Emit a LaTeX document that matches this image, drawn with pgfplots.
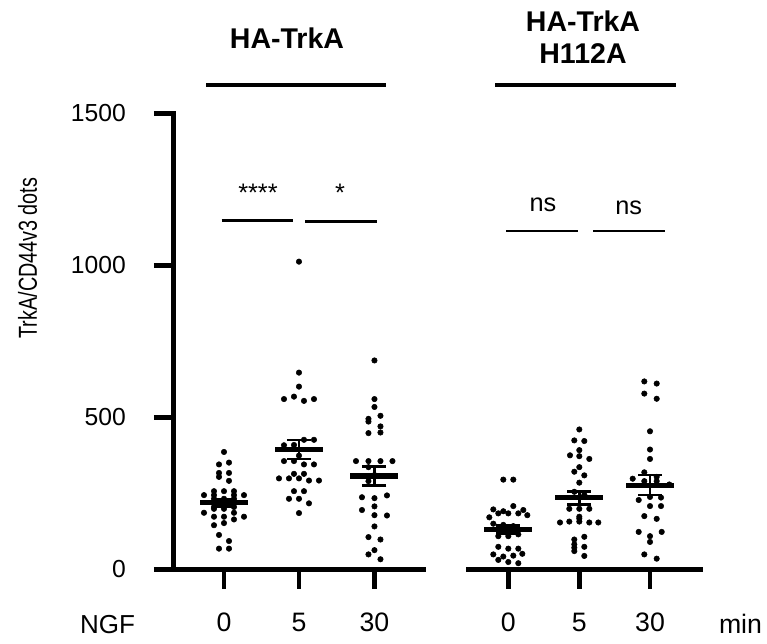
\documentclass[border=0pt]{standalone}
\usepackage{fontspec}
\setmainfont{Liberation Sans}
\usepackage{graphicx}
\usepackage{pgfplots}
\pgfplotsset{compat=1.18}
\pgfplotsset{
  prism/.style={
    scale only axis, height=342pt,
    ymin=0, ymax=1500,
    clip=false,
    anchor=south west,
    xticklabel style={font=\fontsize{20}{22}\selectfont, anchor=base, yshift=-32pt},
    yticklabel style={font=\fontsize{18.5}{20}\selectfont, xshift=-17.6pt},
  },
  prismlines/.style={
    axis line style={line width=3.3pt, line cap=rect},
    x axis line style={-}, y axis line style={-},
    every outer x axis line/.append style={-},
    every outer y axis line/.append style={-},
    tick style={line width=3.4pt, black},
    major tick length=14.5pt,
    tick align=outside,
  },
  dots/.style={only marks, mark=*, mark size=2.05pt, black},
  meanbar/.style={draw=none, mark=none, forget plot,
    error bars/.cd, x dir=both, x explicit, error mark=none,
    error bar style={draw=black, line width=3.8pt}},
  sembar/.style={draw=none, mark=none, forget plot,
    error bars/.cd, y dir=both, y explicit,
    error bar style={draw=black, line width=2pt},
    error mark options={rotate=90, mark size=9pt, line width=2pt, black}},
}
\begin{document}
\begin{tikzpicture}
\useasboundingbox (0,0) rectangle (575.25pt,482.25pt);

% ---------- group 1: HA-TrkA ----------
\begin{axis}[prism, at={(129.975pt,55.275pt)}, width=188pt,
  xmin=173.3, xmax=424, axis lines=left, prismlines,
  xtick={224,299,374.5}, xticklabels={0,5,30},
  ytick={0,500,1000,1500}, yticklabels={0,500,1000,1500}]
% NGF 0 min
\addplot[dots] coordinates {
(224,386)(219,345)(229,351)(219,317)(229,317)(219,304)(229,291)
(214,257)(224,257)(234,257)(204,244)(214,244)(234,244)(244,244)
(214,232)(224,232)(234,232)(224,213)(214,205)(234,205)(214,199)(224,199)
(204,186)(234,186)(214,173)(224,173)(244,173)(234,164)(214,145)(224,152)
(219,113)(229,93)(219,68)(229,68)};
% NGF 5 min
\addplot[dots] coordinates {
(299,1012)(299,647)(299,601)(284,560)(294,568)(304,554)(314,560)
(304,426)(314,426)(284,408)(294,409)(299,374)(284,356)(294,356)(304,345)(314,345)
(294,314)(304,314)(279,299)(289,299)(299,299)(309,292)(319,292)
(294,257)(304,257)(289,232)(299,232)(309,217)(299,185)};
% NGF 30 min
\addplot[dots] coordinates {
(374.5,687)(374.5,560)(374.5,534)(368.5,495)(368.5,486)(380.5,505)
(368.5,448)(380.5,450)(380.5,470)(356,356)(368.5,356)(380.5,356)(392.5,356)
(368.5,336)(374.5,310)(368.5,290)(362,237)(374.5,234)(387,243)
(374.5,207)(362,195)(374.5,178)(387,177)(374.5,141)(368.5,106)(380.5,98)
(374.5,63)(368.5,49)(380.5,33)};
% mean and SEM
\addplot[meanbar] coordinates {(224,219) +- (24,0) (299,394) +- (24,0) (374.5,307) +- (24,0)};
\addplot[sembar] coordinates {(224,219) +- (0,12) (299,394) +- (0,31) (374.5,307) +- (0,31)};
\end{axis}

% ---------- group 2: HA-TrkA H112A ----------
\begin{axis}[prism, at={(351.225pt,55.275pt)}, width=174.3pt,
  xmin=468.3, xmax=700.7, axis x line=bottom, axis y line=none, prismlines,
  xtick={508.3,579.3,650}, xticklabels={0,5,30}]
\addplot[dots] coordinates {
(503.3,295)(513.3,295)(513.3,208)(493.3,197)(498.3,184)(508.3,184)(518.3,184)
(523.3,195)(489.3,171)(527.3,178)(503.3,191)(493.3,150)(503.3,146)(513.3,142)
(503.3,130)(513.3,128)(498.3,109)(508.3,109)(518.3,115)(498.3,74)(508.3,68)
(518.3,68)(493.3,49)(503.3,42)(513.3,45)(522.3,51)(498.3,31)(508.3,24)(518.3,20)};
\addplot[dots] coordinates {
(579.3,460)(574.3,424)(584.3,422)(579.3,392)(570,375)(579.3,372)(589.3,363)
(579.3,336)(574.3,321)(584.3,309)(579.3,285)(574.3,255)(584.3,245)
(569.3,199)(579.3,199)(589.3,199)(579.3,173)(579.3,167)(560,154)(569.3,157)
(579.3,157)(589.3,154)(598.3,154)(574.3,98)(584.3,107)(574.3,82)(574.3,71)
(584.3,74)(574.3,60)(584.3,44)};
\addplot[dots] coordinates {
(644.3,618)(656.7,611)(644.3,578)(656.7,561)(650,454)(650,394)(650,363)
(644.3,319)(656.7,304)(632.7,298)(644.3,290)(656.7,290)(669.3,279)
(638.7,228)(650,238)(661,236)(650,208)(661,208)(644.3,175)(656.7,166)
(638.7,123)(650,109)(661.7,123)(650,90)(644.3,49)(656.7,35)};
\addplot[meanbar] coordinates {(508.3,131) +- (24,0) (579.3,235) +- (24,0) (650,277) +- (24,0)};
\addplot[sembar] coordinates {(508.3,131) +- (0,14) (579.3,235) +- (0,22) (650,277) +- (0,33)};
\end{axis}

% ---------- annotations (pixel units) ----------
\begin{scope}[x=0.75pt,y=0.75pt]
\node[rotate=90, anchor=base, inner sep=0pt, font=\fontsize{19.5}{21}\selectfont]
  at (37,385) {\scalebox{0.76}[1]{TrkA/CD44v3 dots}};
\node[anchor=base, inner sep=0pt, font=\fontsize{19.5}{21}\selectfont] at (107.5,10) {NGF};
\node[anchor=base, inner sep=0pt, font=\fontsize{20}{22}\selectfont] at (740.5,10) {min};

\node[anchor=base, inner sep=0pt, font=\fontsize{21.4}{24}\selectfont\bfseries] at (287,594.7) {HA-TrkA};
\node[anchor=base, inner sep=0pt, font=\fontsize{21.4}{24}\selectfont\bfseries] at (583,611.3) {HA-TrkA};
\node[anchor=base, inner sep=0pt, font=\fontsize{21.4}{24}\selectfont\bfseries] at (583,579.7) {H112A};
\draw[line width=2.5pt] (206,558) -- (386,558);
\draw[line width=2.5pt] (495,558) -- (675.7,558);

\node[anchor=base, inner sep=0pt, font=\fontsize{19}{21}\selectfont] at (258,441) {****};
\node[anchor=base, inner sep=0pt, font=\fontsize{19}{21}\selectfont] at (340,441) {*};
\draw[line width=2.1pt] (221.7,422.7) -- (293.3,422.7);
\draw[line width=2.1pt] (305,421.3) -- (376.7,421.3);

\node[anchor=base, inner sep=0pt, font=\fontsize{19}{21}\selectfont] at (543,431) {ns};
\node[anchor=base, inner sep=0pt, font=\fontsize{19}{21}\selectfont] at (628.7,428) {ns};
\draw[line width=2.1pt] (506,412) -- (577.7,412);
\draw[line width=2.1pt] (593.3,412) -- (665,412);
\end{scope}
\end{tikzpicture}
\end{document}
